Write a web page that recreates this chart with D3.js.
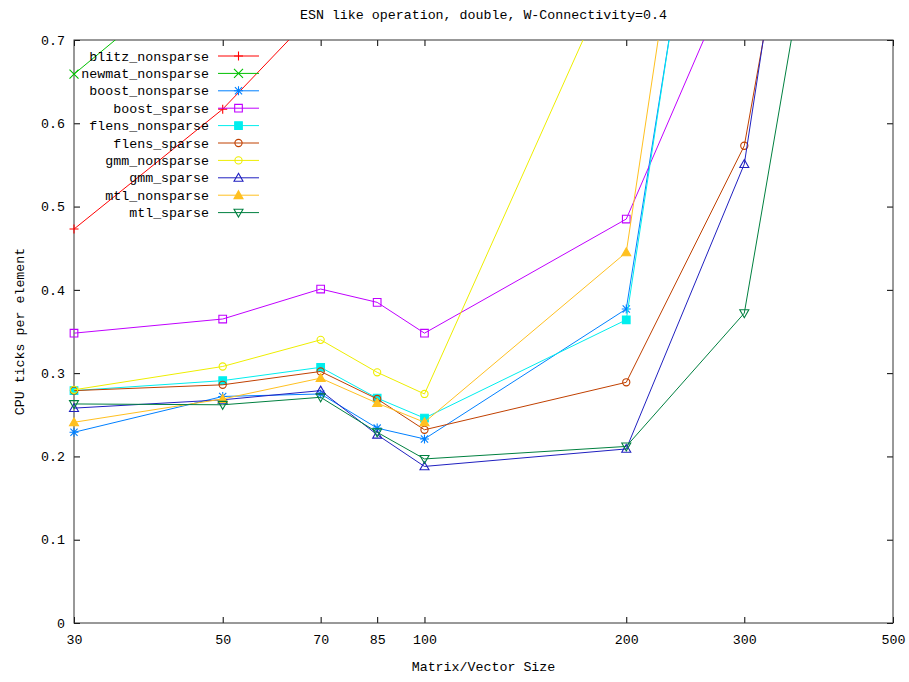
<!DOCTYPE html>
<html>
<head>
<meta charset="utf-8">
<script src="https://cdn.jsdelivr.net/npm/d3@7"></script>
<style>
  body { margin: 0; background: #fff; }
  svg { display: block; }
  text { font-family: "Liberation Mono", "DejaVu Sans Mono", monospace; font-size: 13.3px; fill: #000; }
</style>
</head>
<body>
<svg id="chart" width="909" height="682"></svg>
<script>
// Matrix/vector sizes measured
const sizes = [30, 50, 70, 85, 100, 200, 300, 500];
const xTickValues = [30, 50, 70, 85, 100, 200, 300, 500];
const yTickValues = [0, 0.1, 0.2, 0.3, 0.4, 0.5, 0.6, 0.7];
const yTickLabels = ["0", "0.1", "0.2", "0.3", "0.4", "0.5", "0.6", "0.7"];

// CPU ticks per element for each library / storage mode
const blitz_nonsparse = [0.473, 0.617, 0.740, 0.840, 0.930, 1.620, 2.410, 3.960];
const newmat_nonsparse = [0.659, 0.807, 0.950, 1.050, 1.130, 1.860, 2.720, 4.400];
const boost_nonsparse = [0.229, 0.272, 0.275, 0.234, 0.221, 0.377, 1.270, 2.050];
const boost_sparse = [0.348, 0.365, 0.401, 0.385, 0.348, 0.485, 0.813, 1.350];
const flens_nonsparse = [0.279, 0.291, 0.307, 0.270, 0.246, 0.364, 1.290, 2.100];
const flens_sparse = [0.279, 0.286, 0.302, 0.269, 0.232, 0.289, 0.573, 1.570];
const gmm_nonsparse = [0.280, 0.308, 0.340, 0.301, 0.275, 0.816, 1.420, 2.350];
const gmm_sparse = [0.258, 0.268, 0.279, 0.226, 0.188, 0.209, 0.551, 1.720];
const mtl_nonsparse = [0.241, 0.269, 0.294, 0.264, 0.241, 0.445, 1.390, 2.200];
const mtl_sparse = [0.263, 0.262, 0.271, 0.229, 0.197, 0.212, 0.372, 1.410];

const seriesNames = ["blitz_nonsparse", "newmat_nonsparse", "boost_nonsparse", "boost_sparse",
  "flens_nonsparse", "flens_sparse", "gmm_nonsparse", "gmm_sparse", "mtl_nonsparse", "mtl_sparse"];
const seriesValues = [blitz_nonsparse, newmat_nonsparse, boost_nonsparse, boost_sparse,
  flens_nonsparse, flens_sparse, gmm_nonsparse, gmm_sparse, mtl_nonsparse, mtl_sparse];
const seriesColors = ["#ff0000", "#00c000", "#0080ff", "#c000ff", "#00eeee",
  "#c04000", "#eeee00", "#2020c0", "#ffc020", "#008040"];
const seriesMarkers = ["plus", "cross", "star", "square", "squareFilled",
  "circle", "circle", "triangle", "triangleFilled", "triangleDown"];

const svg = d3.select("#chart");
const plotLeft = 74, plotRight = 893, plotTop = 40, plotBottom = 623;

const x = d3.scaleLog().domain([30, 500]).range([plotLeft, plotRight]);
const y = d3.scaleLinear().domain([0, 0.7]).range([plotBottom, plotTop]);

// Title and axis labels
svg.append("text").attr("x", (plotLeft + plotRight) / 2).attr("y", 19)
  .attr("text-anchor", "middle").text("ESN like operation, double, W-Connectivity=0.4");
svg.append("text").attr("x", (plotLeft + plotRight) / 2).attr("y", 671)
  .attr("text-anchor", "middle").text("Matrix/Vector Size");
svg.append("text").attr("transform", "translate(24," + ((plotTop + plotBottom) / 2) + ") rotate(-90)")
  .attr("text-anchor", "middle").text("CPU ticks per element");

// Axes with inward ticks, mirrored on top and right
const fmtY = v => yTickLabels[yTickValues.indexOf(v)];
const axStyle = g => {
  g.select(".domain").remove();
  g.selectAll(".tick line").attr("stroke", "#000");
  g.selectAll("text").style("font-family", "Liberation Mono, DejaVu Sans Mono, monospace").style("font-size", "13.3px");
};
svg.append("g").attr("transform", `translate(0,${plotBottom})`)
  .call(d3.axisBottom(x).tickValues(xTickValues).tickFormat(d3.format("d")).tickSize(-6).tickPadding(12))
  .call(axStyle);
svg.append("g").attr("transform", `translate(0,${plotTop})`)
  .call(d3.axisTop(x).tickValues(xTickValues).tickFormat("").tickSize(-6))
  .call(axStyle);
svg.append("g").attr("transform", `translate(${plotLeft},0)`)
  .call(d3.axisLeft(y).tickValues(yTickValues).tickFormat(fmtY).tickSize(-6).tickPadding(9))
  .call(axStyle);
svg.append("g").attr("transform", `translate(${plotRight},0)`)
  .call(d3.axisRight(y).tickValues(yTickValues).tickFormat("").tickSize(-6))
  .call(axStyle);

// Plot border
svg.append("rect").attr("x", plotLeft).attr("y", plotTop)
  .attr("width", plotRight - plotLeft).attr("height", plotBottom - plotTop)
  .attr("fill", "none").attr("stroke", "#333").attr("stroke-width", 1);

svg.append("defs").append("clipPath").attr("id", "plotClip")
  .append("rect").attr("x", plotLeft).attr("y", plotTop)
  .attr("width", plotRight - plotLeft).attr("height", plotBottom - plotTop);

// Marker shapes
function markerPath(type, h) {
  switch (type) {
    case "plus": return `M${-h},0H${h}M0,${-h}V${h}`;
    case "cross": return `M${-h},${-h}L${h},${h}M${-h},${h}L${h},${-h}`;
    case "star": return `M${-h},0H${h}M0,${-h}V${h}M${-h*0.8},${-h*0.8}L${h*0.8},${h*0.8}M${-h*0.8},${h*0.8}L${h*0.8},${-h*0.8}`;
    case "square": case "squareFilled": { const a = h * 0.85; return `M${-a},${-a}H${a}V${a}H${-a}Z`; }
    case "circle": return d3.symbol(d3.symbolCircle, Math.PI * (h*0.8) * (h*0.8))();
    case "triangle": case "triangleFilled": return `M0,${-h}L${h},${h*0.75}L${-h},${h*0.75}Z`;
    case "triangleDown": return `M0,${h}L${h},${-h*0.75}L${-h},${-h*0.75}Z`;
  }
}
function drawMarker(g, type, color, cx, cy) {
  const filled = type === "squareFilled" || type === "triangleFilled";
  g.append("path").attr("d", markerPath(type, 4.5))
    .attr("transform", `translate(${cx},${cy})`)
    .attr("fill", filled ? color : "none")
    .attr("stroke", color).attr("stroke-width", 1.1);
}

const line = d3.line().x(d => x(d[0])).y(d => y(d[1]));
const plot = svg.append("g");
seriesNames.forEach((name, i) => {
  const pts = sizes.map((s, j) => [s, seriesValues[i][j]]);
  plot.append("path").datum(pts).attr("d", line)
    .attr("clip-path", "url(#plotClip)")
    .attr("fill", "none").attr("stroke", seriesColors[i]).attr("stroke-width", 1);
  const mg = plot.append("g");
  pts.filter(p => p[1] <= 0.7).forEach(p => drawMarker(mg, seriesMarkers[i], seriesColors[i], x(p[0]), y(p[1])));
});

// Legend
const legend = svg.append("g");
seriesNames.forEach((name, i) => {
  const ly = 56 + i * 17.4;
  legend.append("text").attr("x", 209).attr("y", ly).attr("dy", "0.35em")
    .attr("text-anchor", "end").text(name);
  legend.append("line").attr("x1", 218).attr("x2", 259).attr("y1", ly).attr("y2", ly)
    .attr("stroke", seriesColors[i]).attr("stroke-width", 1);
  drawMarker(legend, seriesMarkers[i], seriesColors[i], 238.5, ly);
});
</script>
</body>
</html>
